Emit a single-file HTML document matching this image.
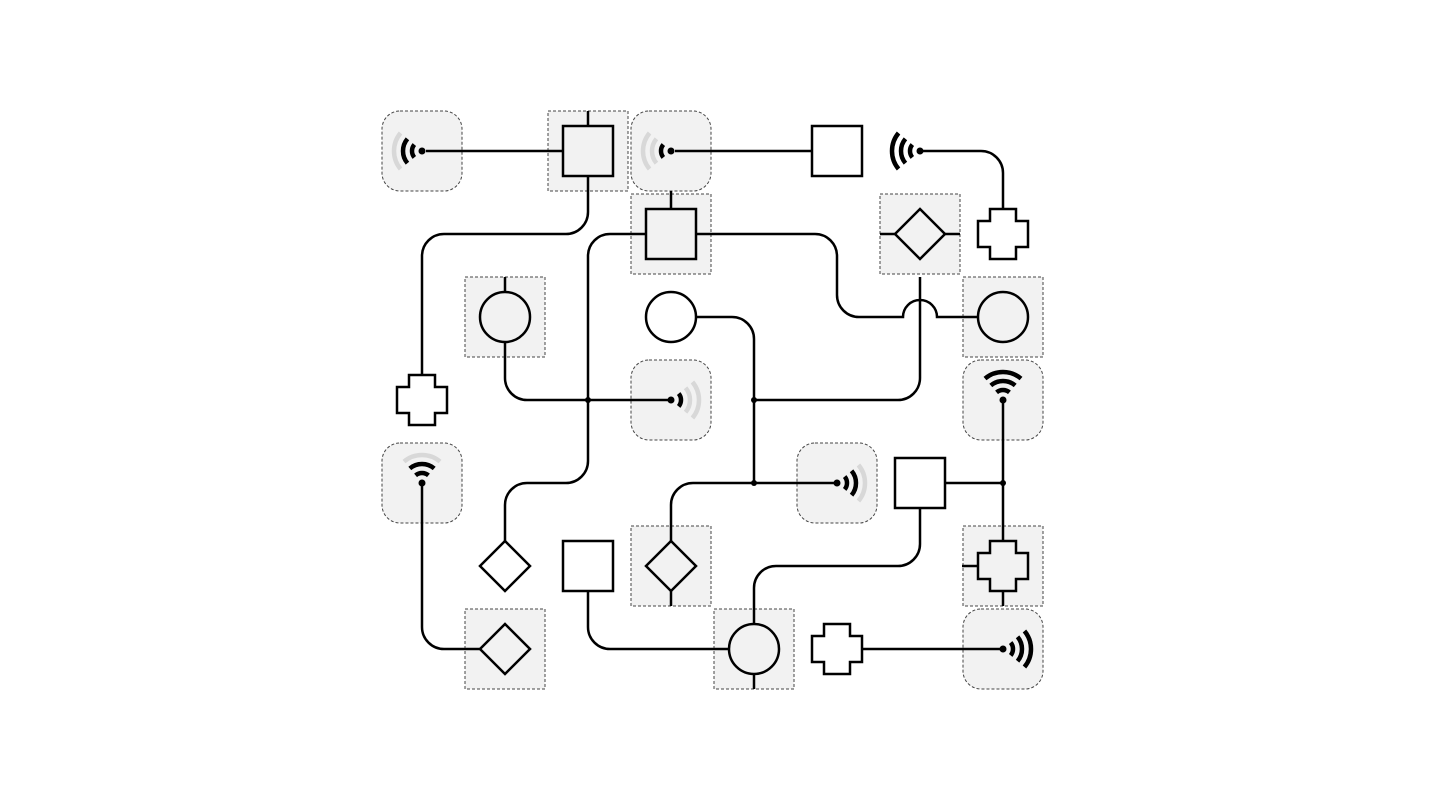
<!DOCTYPE html>
<html><head><meta charset="utf-8"><style>html,body{margin:0;padding:0;background:#fff}svg{display:block}</style></head>
<body>
<svg width="1438" height="810" viewBox="0 0 1438 810" xmlns="http://www.w3.org/2000/svg">
<rect width="1438" height="810" fill="#fff"/>
<defs>
<g id="wb"><path d="M-40 -40H40V40H-40Z" fill="#f2f2f2" stroke="#444" stroke-width="1" stroke-dasharray="3 2"/></g>
<g id="wr"><rect x="-40" y="-40" width="80" height="80" rx="18" fill="#f2f2f2" stroke="#444" stroke-width="1" stroke-dasharray="3 2"/></g>
<path id="a1" d="M7.66,-6.43 A10,10 0 0 1 7.66,6.43" fill="none" stroke-width="4.5"/>
<path id="a2" d="M14.55,-12.21 A19,19 0 0 1 14.55,12.21" fill="none" stroke-width="4.5"/>
<path id="a3" d="M21.45,-18 A28,28 0 0 1 21.45,18" fill="none" stroke-width="4.5"/>
</defs>
<use href="#wr" x="422" y="151"/>
<use href="#wb" x="588" y="151"/>
<use href="#wr" x="671" y="151"/>
<use href="#wb" x="671" y="234"/>
<use href="#wb" x="920" y="234"/>
<use href="#wb" x="505" y="317"/>
<use href="#wb" x="1003" y="317"/>
<use href="#wr" x="671" y="400"/>
<use href="#wr" x="1003" y="400"/>
<use href="#wr" x="422" y="483"/>
<use href="#wr" x="837" y="483"/>
<use href="#wb" x="671" y="566"/>
<use href="#wb" x="1003" y="566"/>
<use href="#wb" x="505" y="649"/>
<use href="#wb" x="754" y="649"/>
<use href="#wr" x="1003" y="649"/>
<g fill="none" stroke="#000" stroke-width="2.5">
<path d="M426 151H563"/>
<path d="M675 151H812"/>
<path d="M920 151H981A22 22 0 0 1 1003 173V209"/>
<path d="M588 176V212A22 22 0 0 1 566 234H444A22 22 0 0 0 422 256V375"/>
<path d="M646 234H610A22 22 0 0 0 588 256V461A22 22 0 0 1 566 483H527A22 22 0 0 0 505 505V541"/>
<path d="M696 234H815A22 22 0 0 1 837 256V295A22 22 0 0 0 859 317H903A17 17 0 0 1 937 317H978"/>
<path d="M920 277V378A22 22 0 0 1 898 400H754"/>
<path d="M696 317H732A22 22 0 0 1 754 339V483"/>
<path d="M505 342V378A22 22 0 0 0 527 400H671"/>
<path d="M671 541V505A22 22 0 0 1 693 483H837"/>
<path d="M945 483H1003M1003 400V541"/>
<path d="M920 508V544A22 22 0 0 1 898 566H776A22 22 0 0 0 754 588V624"/>
<path d="M588 591V627A22 22 0 0 0 610 649H729"/>
<path d="M422 483V627A22 22 0 0 0 444 649H480"/>
<path d="M862 649H1003"/>
<path d="M588 111V126M671 191V209M880 234H895M945 234H960M505 277V292M671 581V606M962 566H978M1003 591V606M754 674V689"/>
</g>
<g fill="none" stroke="#000" stroke-width="2.5">
<rect x="563" y="126" width="50" height="50" fill="#f2f2f2"/>
<rect x="812" y="126" width="50" height="50" fill="#fff"/>
<rect x="646" y="209" width="50" height="50" fill="#f2f2f2"/>
<rect x="895" y="458" width="50" height="50" fill="#fff"/>
<rect x="563" y="541" width="50" height="50" fill="#fff"/>
<path d="M920 209L945 234L920 259L895 234Z" fill="#f2f2f2"/>
<path d="M505 541L530 566L505 591L480 566Z" fill="#fff"/>
<path d="M671 541L696 566L671 591L646 566Z" fill="#f2f2f2"/>
<path d="M505 624L530 649L505 674L480 649Z" fill="#f2f2f2"/>
<circle cx="505" cy="317" r="25" fill="#f2f2f2"/>
<circle cx="671" cy="317" r="25" fill="#fff"/>
<circle cx="1003" cy="317" r="25" fill="#f2f2f2"/>
<circle cx="754" cy="649" r="25" fill="#f2f2f2"/>
<path d="M990 209H1016V221H1028V247H1016V259H990V247H978V221H990Z" fill="#fff"/>
<path d="M409 375H435V387H447V413H435V425H409V413H397V387H409Z" fill="#fff"/>
<path d="M990 541H1016V553H1028V579H1016V591H990V579H978V553H990Z" fill="#f2f2f2"/>
<path d="M824 624H850V636H862V662H850V674H824V662H812V636H824Z" fill="#fff"/>
</g>
<g transform="translate(422 151) rotate(180)"><circle r="3.5"/><use href="#a1" stroke="#000"/><use href="#a2" stroke="#000"/><use href="#a3" stroke="#d8d8d8"/></g>
<g transform="translate(671 151) rotate(180)"><circle r="3.5"/><use href="#a1" stroke="#000"/><use href="#a2" stroke="#d8d8d8"/><use href="#a3" stroke="#d8d8d8"/></g>
<g transform="translate(920 151) rotate(180)"><circle r="3.5"/><use href="#a1" stroke="#000"/><use href="#a2" stroke="#000"/><use href="#a3" stroke="#000"/></g>
<g transform="translate(671 400)"><circle r="3.5"/><use href="#a1" stroke="#000"/><use href="#a2" stroke="#d8d8d8"/><use href="#a3" stroke="#d8d8d8"/></g>
<g transform="translate(1003 400) rotate(-90)"><circle r="3.5"/><use href="#a1" stroke="#000"/><use href="#a2" stroke="#000"/><use href="#a3" stroke="#000"/></g>
<g transform="translate(422 483) rotate(-90)"><circle r="3.5"/><use href="#a1" stroke="#000"/><use href="#a2" stroke="#000"/><use href="#a3" stroke="#d8d8d8"/></g>
<g transform="translate(837 483)"><circle r="3.5"/><use href="#a1" stroke="#000"/><use href="#a2" stroke="#000"/><use href="#a3" stroke="#d8d8d8"/></g>
<g transform="translate(1003 649)"><circle r="3.5"/><use href="#a1" stroke="#000"/><use href="#a2" stroke="#000"/><use href="#a3" stroke="#000"/></g>
<circle cx="588" cy="400" r="3"/><circle cx="754" cy="400" r="3"/><circle cx="754" cy="483" r="3"/><circle cx="1003" cy="483" r="3"/>
</svg>
</body></html>
